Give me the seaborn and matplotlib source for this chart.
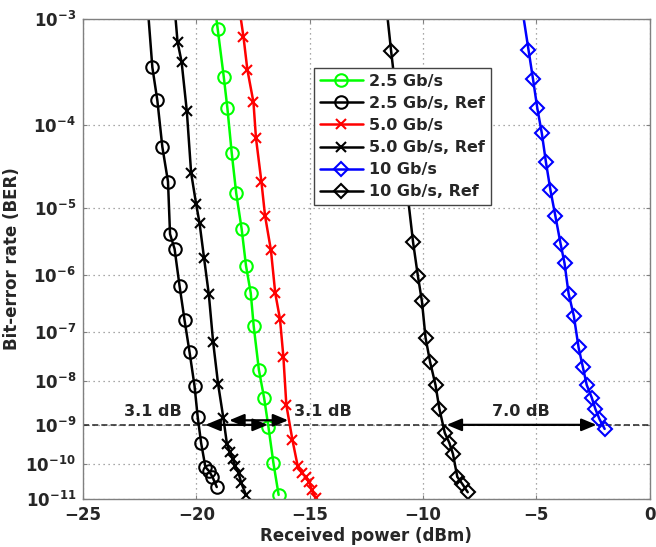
import numpy as np
import matplotlib
matplotlib.use("Agg")
import matplotlib.pyplot as plt
import seaborn as sns

# -------------------------------
# Data (received power in dBm, log10 of BER)
# -------------------------------
p_25 = [-19.26, -19.06, -18.79, -18.63, -18.44, -18.24, -18.00, -17.81, -17.60,
        -17.47, -17.24, -17.01, -16.82, -16.60, -16.37]
lb_25 = [-2.8, -3.08, -3.51, -3.82, -4.31, -4.81, -5.30, -5.85, -6.30,
         -6.89, -7.76, -8.37, -9.05, -9.98, -10.88]

p_25_ref = [-22.19, -21.94, -21.72, -21.50, -21.25, -21.16, -20.96, -20.74, -20.52,
            -20.30, -20.08, -19.94, -19.79, -19.60, -19.44, -19.29, -19.10]
lb_25_ref = [-2.8, -3.42, -3.74, -4.24, -4.66, -5.37, -5.59, -6.18, -6.78,
             -7.39, -8.10, -8.81, -9.45, -10.09, -10.20, -10.36, -10.65]

p_50 = [-18.20, -17.92, -17.75, -17.48, -17.37, -17.13, -16.97, -16.71, -16.52,
        -16.31, -16.16, -16.03, -15.76, -15.53, -15.34, -15.18, -15.03, -14.90, -14.74]
lb_50 = [-2.8, -3.15, -3.44, -3.76, -4.14, -4.66, -5.11, -5.61, -6.30,
         -6.76, -7.49, -8.53, -9.38, -10.06, -10.25, -10.36, -10.50, -10.74, -10.97]

p_50_ref = [-21.01, -20.83, -20.65, -20.42, -20.23, -20.01, -19.86, -19.66, -19.45,
            -19.26, -19.04, -18.81, -18.65, -18.52, -18.40, -18.28, -18.14, -18.02, -17.81]
lb_50_ref = [-2.8, -3.19, -3.37, -3.85, -4.55, -4.95, -5.21, -5.73, -6.32,
             -7.19, -8.06, -8.83, -9.48, -9.69, -9.87, -10.06, -10.25, -10.53, -10.88]

p_10 = [-5.73, -5.35, -5.15, -4.96, -4.76, -4.58, -4.38, -4.16, -3.93, -3.76,
        -3.58, -3.35, -3.14, -2.95, -2.78, -2.56, -2.40, -2.22, -1.99]
lb_10 = [-2.8, -3.26, -3.53, -3.82, -4.09, -4.42, -4.77, -5.12, -5.52, -5.81,
         -6.31, -6.70, -7.30, -7.70, -8.08, -8.36, -8.62, -8.86, -9.10]

p_10_ref = [-11.68, -11.41, -10.44, -10.23, -10.05, -9.89, -9.69, -9.45, -9.28,
            -9.04, -8.84, -8.68, -8.49, -8.27, -8.03]
lb_10_ref = [-2.8, -3.27, -5.49, -6.01, -6.44, -7.11, -7.59, -8.08, -8.62,
             -9.20, -9.45, -9.74, -10.36, -10.56, -10.80]

labels = ["2.5 Gb/s", "2.5 Gb/s, Ref", "5.0 Gb/s", "5.0 Gb/s, Ref", "10 Gb/s", "10 Gb/s, Ref"]
powers = [p_25, p_25_ref, p_50, p_50_ref, p_10, p_10_ref]
log_bers = [lb_25, lb_25_ref, lb_50, lb_50_ref, lb_10, lb_10_ref]

# penalty arrows: (start dBm, end dBm, log10 BER) and their labels
arrow_x0 = [-19.6, -18.55, -8.96]
arrow_x1 = [-16.85, -15.95, -2.35]
arrow_lb = [-9.0, -8.89, -9.0]
penalty_text = ["3.1 dB", "3.1 dB", "7.0 dB"]
penalty_x = [-21.9, -14.43, -5.70]

# -------------------------------
# Style
# -------------------------------
sns.set_style("whitegrid")
plt.rcParams["font.family"] = ["DejaVu Sans"]
plt.rcParams["font.weight"] = "bold"
plt.rcParams["axes.labelweight"] = "bold"
plt.rcParams["mathtext.default"] = "bf"

colors = ["#00ff00", "black", "#ff0000", "black", "#0000ff", "black"]
markers = ["o", "o", "x", "x", "D", "D"]
msizes = [9, 9, 7, 7, 7.5, 7.5]


# Q-scale for BER axis
def q_fwd(b):
    b = np.clip(np.asarray(b, dtype=float), 1e-300, 0.999)
    return -np.log10(-np.log10(b))


def q_inv(y):
    return 10.0 ** (-(10.0 ** (-np.asarray(y, dtype=float))))


fig = plt.figure(figsize=(6.56, 5.47), dpi=100)
ax = fig.add_axes([0.1265, 0.0878, 0.864, 0.8775])
ax.set_yscale("function", functions=(q_fwd, q_inv))

for lab, x, lb, c, m, ms in zip(labels, powers, log_bers, colors, markers, msizes):
    sns.lineplot(x=x, y=10.0 ** np.array(lb), ax=ax, color=c, marker=m, markersize=ms,
                 mfc="none", mec=c, mew=1.5, lw=1.8, label=lab, sort=False, estimator=None)

ax.axhline(1e-9, color="#222222", ls=(0, (4, 2)), lw=1.1, zorder=1.5)

for x0, x1, lb in zip(arrow_x0, arrow_x1, arrow_lb):
    ax.annotate("", xy=(x1, 10.0 ** lb), xytext=(x0, 10.0 ** lb),
                arrowprops=dict(arrowstyle="<|-|>,head_length=0.6,head_width=0.25",
                                color="black", lw=1.6, mutation_scale=15,
                                shrinkA=0, shrinkB=0))

for t, x in zip(penalty_text, penalty_x):
    ax.text(x, 2.1e-9, t, ha="center", va="center", fontsize=11.5, fontweight="bold")

ax.set_xlim(-25, 0)
ax.set_ylim(1e-11, 1e-3)
ax.set_xticks(range(-25, 1, 5))
yt = [10.0 ** -k for k in range(3, 12)]
ax.set_yticks(yt)
ax.set_yticklabels([rf"$10^{{-{k}}}$" for k in range(3, 12)])
ax.yaxis.set_minor_locator(matplotlib.ticker.NullLocator())

ax.grid(True, linestyle=(0, (1, 3)), color="#8c8c8c", lw=0.9)
for s in ax.spines.values():
    s.set_color("#808080")
    s.set_linewidth(1.0)
ax.tick_params(direction="in", length=3, width=0.8, color="#808080", labelsize=12,
               bottom=True, left=True, top=True, right=True, pad=5)

ax.set_xlabel("Received power (dBm)", fontsize=12, fontweight="bold", labelpad=2)
ax.set_ylabel("Bit-error rate (BER)", fontsize=12, fontweight="bold", labelpad=3)

leg = ax.legend(loc="upper left", bbox_to_anchor=(0.408, 0.898), frameon=True,
                fancybox=False, framealpha=1, edgecolor="#444444", fontsize=11.5,
                handlelength=2.7, handletextpad=0.4, borderpad=0.35,
                labelspacing=0.45, borderaxespad=0)
leg.get_frame().set_linewidth(1.0)

fig.savefig("out.png", dpi=100)
